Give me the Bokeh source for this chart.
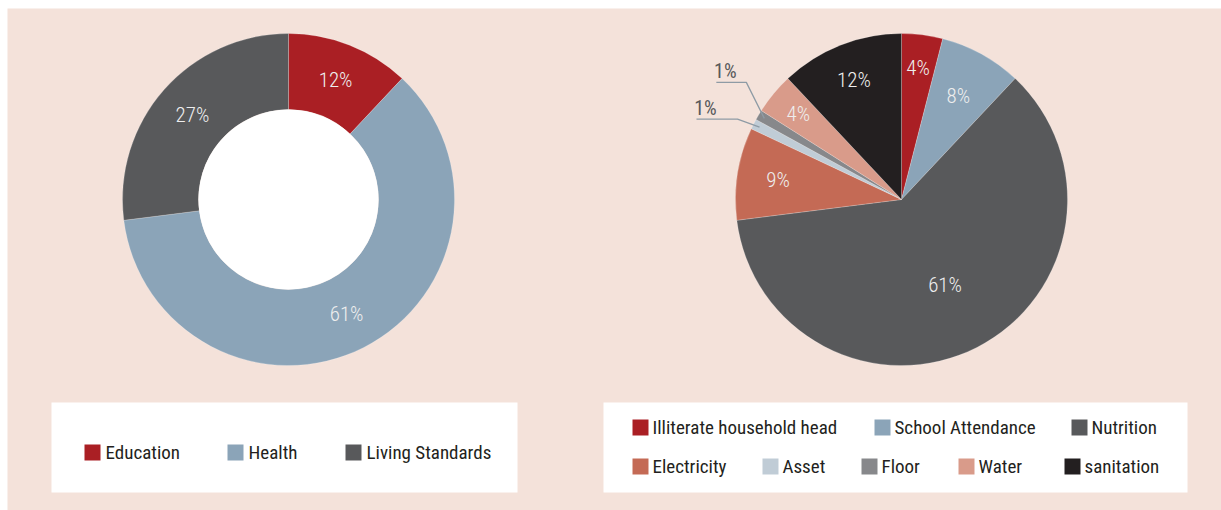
import numpy as np
from bokeh.plotting import figure
from bokeh.models import Range1d
from bokeh.core.properties import value
from bokeh.embed import file_html
from bokeh.resources import INLINE

# ---------------- data ----------------
dim_labels = ["Education", "Health", "Living Standards"]
dim_values = [12, 61, 27]

ind_labels = ["Illiterate household head", "School Attendance", "Nutrition",
              "Electricity", "Asset", "Floor", "Water", "sanitation"]
ind_values = [4, 8, 61, 9, 1, 1, 4, 12]

# ---------------- style ----------------
dim_colors = ["#AA1F24", "#8BA4B8", "#58595B"]
ind_colors = ["#AA1F24", "#8BA4B8", "#58595B", "#C46A55",
              "#C0CCD6", "#87888B", "#D99B8A", "#231F20"]
BG = "#F4E2DA"
FONT = value("'Roboto Condensed', 'DejaVu Sans Condensed', sans-serif")
FONT_LIGHT = value("'Roboto Condensed Light', 'Roboto Condensed', sans-serif")
W, H = 1221, 510


def px(X):
    return X


def py(Y):
    return H - Y


p = figure(width=W, height=H, output_backend="svg", toolbar_location=None,
           x_range=Range1d(0, W), y_range=Range1d(0, H), min_border=0)
p.axis.visible = False
p.grid.visible = False
p.outline_line_color = None
p.background_fill_color = "#FFFFFF"
p.border_fill_color = "#FFFFFF"

# pink panel
p.quad(left=[px(7)], right=[px(W)], top=[py(8)], bottom=[py(H)],
       fill_color=BG, line_color=None)


def angles(vals):
    v = np.array(vals, dtype=float)
    frac = v / v.sum()
    cum = np.concatenate([[0], np.cumsum(frac)])
    start = np.pi / 2 - 2 * np.pi * cum[:-1]
    end = np.pi / 2 - 2 * np.pi * cum[1:]
    mid = np.pi / 2 - 2 * np.pi * (cum[:-1] + cum[1:]) / 2
    return start, end, mid


R = 166
LBL_SIZE = "21px"
LBL_COLOR = "#EEEEEE"
# ---------------- left donut ----------------
cx1, cy1 = px(288), py(199)
s1, e1, m1 = angles(dim_values)
p.annular_wedge(x=cx1, y=cy1, inner_radius=90, outer_radius=R,
                start_angle=s1, end_angle=e1, direction="clock",
                fill_color=dim_colors, line_color="#FFFFFF", line_alpha=0.35,
                line_width=0.6)
p.circle(x=cx1, y=cy1, radius=90, fill_color="#FFFFFF", line_color=None)
lr1 = 128
p.text(x=cx1 + lr1 * np.cos(m1), y=cy1 + lr1 * np.sin(m1),
       text=[f"{v}%" for v in dim_values], text_font=FONT_LIGHT,
       text_font_size=LBL_SIZE, text_color=LBL_COLOR,
       text_align="center", text_baseline="middle")

# ---------------- right pie ----------------
cx2, cy2 = px(901), py(199)
s2, e2, m2 = angles(ind_values)
p.wedge(x=cx2, y=cy2, radius=R, start_angle=s2, end_angle=e2,
        direction="clock", fill_color=ind_colors, line_color="#FFFFFF",
        line_alpha=0.35, line_width=0.6)

label_r = [133, 118, 96, 125, None, None, 134, 129]
inside = [i for i, r in enumerate(label_r) if r is not None]
p.text(x=[cx2 + label_r[i] * np.cos(m2[i]) for i in inside],
       y=[cy2 + label_r[i] * np.sin(m2[i]) for i in inside],
       text=[f"{ind_values[i]}%" for i in inside], text_font=FONT_LIGHT,
       text_font_size=LBL_SIZE, text_color=LBL_COLOR,
       text_align="center", text_baseline="middle")

# outside labels with leader lines (Asset, Floor)
outside = [i for i, r in enumerate(label_r) if r is None]
elbow_off = {4: (-22, 8), 5: (-18, 36)}     # (dx, dy up) from leader end
run_len = {4: 41, 5: 30}
for i in outside:
    ex = cx2 + 0.96 * R * np.cos(m2[i])
    ey = cy2 + 0.96 * R * np.sin(m2[i])
    bx, by = ex + elbow_off[i][0], ey + elbow_off[i][1]
    ax_ = bx - run_len[i]
    p.line(x=[ax_, bx, ex], y=[by, by, ey], line_color="#8E9BA5",
           line_width=1.3)
    p.text(x=[ax_ + 9], y=[by + 11],
           text=[f"{ind_values[i]}%"], text_font=FONT,
           text_font_size="20px", text_color="#58595B",
           text_align="center", text_baseline="middle")

# ---------------- legends ----------------
p.quad(left=[px(51), px(603)], right=[px(517), px(1187)],
       bottom=[py(492), py(492)], top=[py(402), py(402)],
       fill_color="#FFFFFF", line_color=None)

SQ = 16
LEG_SIZE = "19px"
leg1_x = [84, 227, 345]
leg1_y = [452, 452, 452]
p.rect(x=[px(x) + SQ / 2 for x in leg1_x], y=[py(y) for y in leg1_y],
       width=SQ, height=SQ, fill_color=dim_colors, line_color=None)
p.text(x=[px(x) + SQ + 5 for x in leg1_x], y=[py(y) for y in leg1_y],
       text=dim_labels, text_font=FONT, text_font_size=LEG_SIZE,
       text_color="#231F20", text_align="left", text_baseline="middle")

leg2_x = [632, 874, 1071, 632, 762, 861, 958, 1064]
leg2_y = [427, 427, 427, 466, 466, 466, 466, 466]
p.rect(x=[px(x) + SQ / 2 for x in leg2_x], y=[py(y) for y in leg2_y],
       width=SQ, height=SQ, fill_color=ind_colors, line_color=None)
p.text(x=[px(x) + SQ + 4 for x in leg2_x], y=[py(y) for y in leg2_y],
       text=ind_labels, text_font=FONT, text_font_size=LEG_SIZE,
       text_color="#231F20", text_align="left", text_baseline="middle")

open("out.html", "w").write(file_html(p, INLINE))
